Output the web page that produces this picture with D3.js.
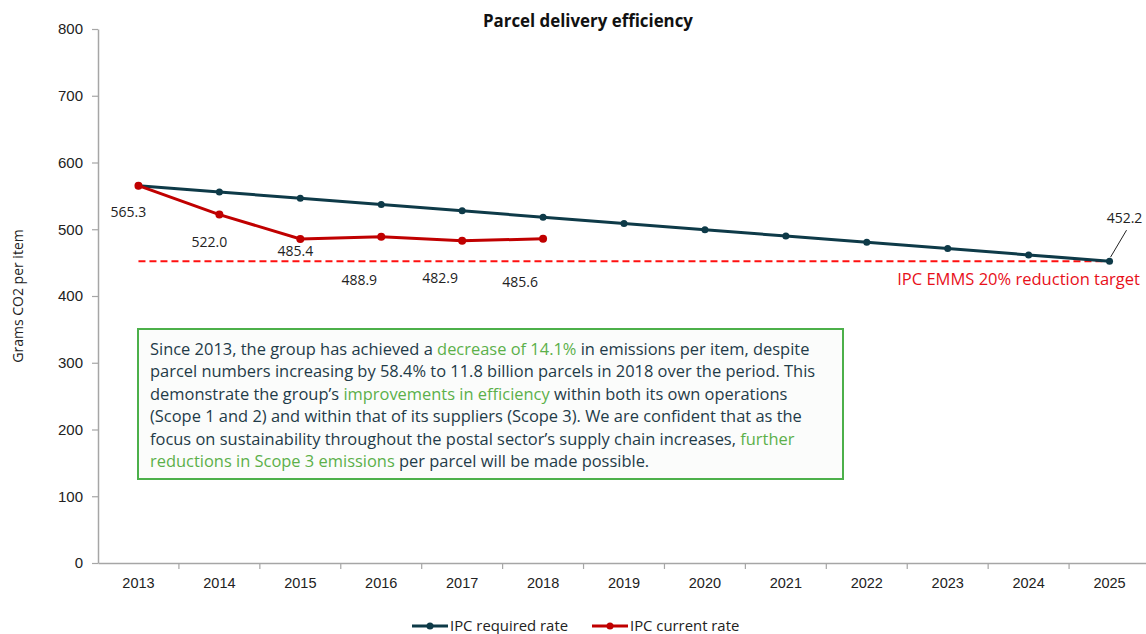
<!DOCTYPE html>
<html>
<head>
<meta charset="utf-8">
<script src="https://cdn.jsdelivr.net/npm/d3@7"></script>
<style>
  body { margin: 0; background: #fff; }
  svg { display: block; font-family: "Open Sans", sans-serif; }
</style>
</head>
<body>
<svg id="chart" width="1146" height="634"></svg>
<script>
// data
const years = ['2013', '2014', '2015', '2016', '2017', '2018', '2019', '2020', '2021', '2022', '2023', '2024', '2025'];
const requiredRate = [565.3, 555.9, 546.4, 537.0, 527.6, 518.1, 508.7, 499.3, 489.8, 480.4, 471.0, 461.6, 452.2];
const currentRate = [565.3, 522.0, 485.4, 488.9, 482.9, 485.6];
const targetValue = 452.2;
const yTicks = [0, 100, 200, 300, 400, 500, 600, 700, 800];

// label offsets for current-rate points (dx, dy from the point)
const currentLabelOffset = [[-10, 31], [-10, 32], [-5, 17], [-22, 48], [-22, 42], [-23, 48]];

const svg = d3.select('#chart');
const margin = { top: 29, left: 98, bottom: 71 };
const height = 634;

const x = d3.scaleBand()
    .domain(years)
    .range([margin.left, 1150]);
const y = d3.scaleLinear()
    .domain([0, 800])
    .range([height - margin.bottom, margin.top]);
const cx = d => x(d) + x.bandwidth() / 2;

const axisColor = '#a6a6a6';
const textColor = '#222';

// scale a text's font so it spans the given width
function fit(sel, w) {
    sel.each(function () {
        const base = parseFloat(this.getAttribute('font-size')) || 14;
        const len = this.getComputedTextLength();
        if (len > 0) this.setAttribute('font-size', (base * w / len).toFixed(2));
    });
}

// title
svg.append('text')
    .attr('x', 588).attr('y', 27)
    .attr('text-anchor', 'middle')
    .attr('font-size', 15).attr('font-weight', 'bold')
    .attr('fill', '#111')
    .text('Parcel delivery efficiency')
    .call(fit, 210);

// y axis
const yAxis = svg.append('g')
    .attr('transform', `translate(${margin.left},0)`)
    .call(d3.axisLeft(y).tickValues(yTicks).tickSize(6).tickPadding(9).tickSizeOuter(0));
yAxis.select('.domain').attr('stroke', axisColor).attr('stroke-width', 1.5);
yAxis.selectAll('.tick line').attr('stroke', axisColor).attr('stroke-width', 1.2);
yAxis.selectAll('.tick text').attr('font-size', 15).attr('fill', textColor).attr('font-family', 'inherit');

// x axis, ticks on band boundaries
const xAxis = svg.append('g')
    .attr('transform', `translate(0,${y(0)})`)
    .call(d3.axisBottom(x).tickSize(0).tickPadding(15));
xAxis.select('.domain').attr('stroke', axisColor).attr('stroke-width', 1.5);
xAxis.selectAll('.tick text').attr('font-size', 14.5).attr('fill', textColor).attr('font-family', 'inherit');
xAxis.selectAll('.boundary')
    .data(years)
    .enter().append('line')
    .attr('x1', d => x(d) + x.step())
    .attr('x2', d => x(d) + x.step())
    .attr('y1', 0).attr('y2', 6)
    .attr('stroke', axisColor).attr('stroke-width', 1.2);

// y axis title
svg.append('text')
    .attr('transform', `translate(23,${y(400)}) rotate(-90)`)
    .attr('text-anchor', 'middle')
    .attr('font-size', 14).attr('fill', textColor)
    .text('Grams CO2 per item');

// target dashed line
svg.append('line')
    .attr('x1', cx('2013')).attr('x2', cx('2025'))
    .attr('y1', y(targetValue)).attr('y2', y(targetValue))
    .attr('stroke', '#ff1010').attr('stroke-width', 2)
    .attr('stroke-dasharray', '7,4');
svg.append('text')
    .attr('x', 1140).attr('y', y(targetValue) + 24)
    .attr('text-anchor', 'end')
    .attr('font-size', 15).attr('fill', '#e8101a')
    .text('IPC EMMS 20% reduction target')
    .call(fit, 243);

const line = d3.line().x((d, i) => cx(years[i])).y(d => y(d));

// required rate
svg.append('path')
    .datum(requiredRate)
    .attr('d', line)
    .attr('fill', 'none').attr('stroke', '#0e3a48').attr('stroke-width', 3);
svg.selectAll('.req-dot')
    .data(requiredRate).enter().append('circle')
    .attr('cx', (d, i) => cx(years[i])).attr('cy', d => y(d))
    .attr('r', 3.5).attr('fill', '#0e3a48');

// current rate
svg.append('path')
    .datum(currentRate)
    .attr('d', line)
    .attr('fill', 'none').attr('stroke', '#c00000').attr('stroke-width', 3);
svg.selectAll('.cur-dot')
    .data(currentRate).enter().append('circle')
    .attr('cx', (d, i) => cx(years[i])).attr('cy', d => y(d))
    .attr('r', 4).attr('fill', '#c00000');

// labels for current rate
svg.selectAll('.cur-label')
    .data(currentRate).enter().append('text')
    .attr('x', (d, i) => cx(years[i]) + currentLabelOffset[i][0])
    .attr('y', (d, i) => y(d) + currentLabelOffset[i][1])
    .attr('text-anchor', 'middle')
    .attr('font-size', 14).attr('fill', textColor)
    .text(d => d.toFixed(1));

// end label with leader line
const endX = cx('2025'), endY = y(requiredRate[requiredRate.length - 1]);
svg.append('line')
    .attr('x1', endX + 1).attr('y1', endY - 4)
    .attr('x2', endX + 17).attr('y2', endY - 31)
    .attr('stroke', '#222').attr('stroke-width', 1);
svg.append('text')
    .attr('x', endX + 15).attr('y', endY - 38)
    .attr('text-anchor', 'middle')
    .attr('font-size', 14).attr('fill', textColor)
    .text(requiredRate[requiredRate.length - 1].toFixed(1));

// text box
const boxLines = [
    [['Since 2013, the group has achieved a ', 0], ['decrease of 14.1%', 1], [' in emissions per item, despite', 0]],
    [['parcel numbers increasing by 58.4% to 11.8 billion parcels in 2018 over the period. This', 0]],
    [['demonstrate the group\u2019s ', 0], ['improvements in efficiency', 1], [' within both its own operations', 0]],
    [['(Scope 1 and 2) and within that of its suppliers (Scope 3). We are confident that as the', 0]],
    [['focus on sustainability throughout the postal sector\u2019s supply chain increases, ', 0], ['further', 1]],
    [['reductions in Scope 3 emissions', 1], [' per parcel will be made possible.', 0]]
];
svg.append('rect')
    .attr('x', 138).attr('y', 329).attr('width', 705).attr('height', 150)
    .attr('fill', '#fbfcfb').attr('stroke', '#4cb04a').attr('stroke-width', 2);
const boxText = svg.selectAll('.box-line')
    .data(boxLines).enter().append('text')
    .attr('x', 150).attr('y', (d, i) => 355 + i * 22.4)
    .attr('font-size', 14).attr('fill', '#1f3b48')
    .style('white-space', 'pre');
boxText.selectAll('tspan')
    .data(d => d).enter().append('tspan')
    .text(d => d[0])
    .attr('fill', d => d[1] ? '#5bb04a' : '#1f3b48');
// common font size fitted on the first line
const first = boxText.nodes()[0];
const boxSize = (14 * 660 / first.getComputedTextLength()).toFixed(2);
boxText.attr('font-size', boxSize);

// legend
const legend = [
    { name: 'IPC required rate', color: '#0e3a48', x: 412 },
    { name: 'IPC current rate', color: '#c00000', x: 592 }
];
const lg = svg.selectAll('.legend').data(legend).enter().append('g');
lg.append('line')
    .attr('x1', d => d.x).attr('x2', d => d.x + 36)
    .attr('y1', 626).attr('y2', 626)
    .attr('stroke', d => d.color).attr('stroke-width', 3);
lg.append('circle')
    .attr('cx', d => d.x + 18).attr('cy', 626).attr('r', 3.5)
    .attr('fill', d => d.color);
const legendText = lg.append('text')
    .attr('x', d => d.x + 38).attr('y', 630.5)
    .attr('font-size', 14).attr('fill', textColor)
    .text(d => d.name);
const legendSize = (14 * 118 / legendText.nodes()[0].getComputedTextLength()).toFixed(2);
legendText.attr('font-size', legendSize);
</script>
</body>
</html>
